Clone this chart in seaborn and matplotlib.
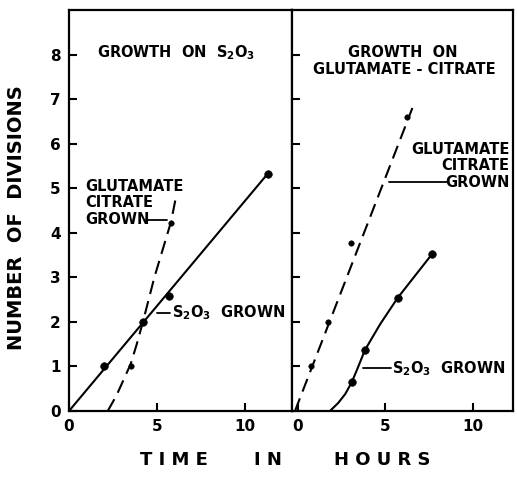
import matplotlib
matplotlib.use("Agg")
import matplotlib.pyplot as plt
import seaborn as sns
import pandas as pd

# left panel: growth on S2O3
left_s2o3_line_x = [0, 11.3]
left_s2o3_line_y = [0, 5.33]
left_s2o3_pts_x = [2.0, 4.2, 5.7, 11.3]
left_s2o3_pts_y = [1.0, 2.0, 2.58, 5.33]
left_glut_line_x = [2.2, 2.7, 3.1, 3.5, 3.85, 4.2, 4.85, 5.8, 6.1]
left_glut_line_y = [0, 0.35, 0.7, 1.05, 1.5, 2.0, 3.0, 4.25, 4.85]
left_glut_pts_x = [3.5, 5.8]
left_glut_pts_y = [1.0, 4.22]

# right panel: growth on glutamate-citrate
right_glut_line_x = [-0.17, 6.54]
right_glut_line_y = [0, 6.8]
right_glut_pts_x = [0.73, 1.73, 3.03, 6.25]
right_glut_pts_y = [1.0, 2.0, 3.76, 6.6]
right_s2o3_line_x = [1.83, 2.3, 2.7, 3.07, 3.4, 3.83, 4.7, 5.7, 7.68]
right_s2o3_line_y = [0, 0.18, 0.38, 0.64, 0.95, 1.37, 1.95, 2.54, 3.53]
right_s2o3_pts_x = [3.07, 3.83, 5.7, 7.68]
right_s2o3_pts_y = [0.64, 1.37, 2.54, 3.53]

x_ticks = [0, 5, 10]
y_ticks = [0, 1, 2, 3, 4, 5, 6, 7, 8]

sns.set_theme(style="ticks")
plt.rcParams["font.family"] = ["DejaVu Sans"]
plt.rcParams["font.weight"] = "bold"
plt.rcParams["text.color"] = "black"
plt.rcParams["mathtext.fontset"] = "dejavusans"
plt.rcParams["mathtext.default"] = "bf"

fig = plt.figure(figsize=(5.17, 4.78), dpi=100)
ax1 = fig.add_axes([69 / 517, 1 - 411 / 478, 223 / 517, 401 / 478])
ax2 = fig.add_axes([292 / 517, 1 - 411 / 478, 221 / 517, 401 / 478])

dash = (0, (6.5, 3.5))
lw = 1.5


def draw(ax, lx, ly, px, py, dashed, ms):
    df = pd.DataFrame({"x": lx, "y": ly})
    sns.lineplot(data=df, x="x", y="y", ax=ax, sort=False, color="black",
                 linewidth=lw, linestyle=dash if dashed else "-")
    dp = pd.DataFrame({"x": px, "y": py})
    sns.scatterplot(data=dp, x="x", y="y", ax=ax, color="black", s=ms,
                    edgecolor="black", zorder=3)


draw(ax1, left_s2o3_line_x, left_s2o3_line_y, left_s2o3_pts_x, left_s2o3_pts_y, False, 30)
draw(ax1, left_glut_line_x, left_glut_line_y, left_glut_pts_x, left_glut_pts_y, True, 16)
draw(ax2, right_glut_line_x, right_glut_line_y, right_glut_pts_x, right_glut_pts_y, True, 16)
draw(ax2, right_s2o3_line_x, right_s2o3_line_y, right_s2o3_pts_x, right_s2o3_pts_y, False, 30)

ax1.set_xlim(0, 12.67)
ax2.set_xlim(-0.34, 12.29)
for ax in (ax1, ax2):
    ax.set_ylim(0, 9)
    ax.set_xticks(x_ticks)
    ax.set_yticks(y_ticks)
    ax.set_xlabel("")
    ax.set_ylabel("")
    for s in ax.spines.values():
        s.set_linewidth(1.6)
        s.set_color("black")
    ax.tick_params(direction="in", length=6, width=1.5, colors="black",
                   labelsize=11, pad=6)
    for lab in ax.get_xticklabels() + ax.get_yticklabels():
        lab.set_fontweight("bold")
ax2.tick_params(axis="y", labelleft=False)

tk = dict(fontsize=10.5, fontweight="bold", color="black")
ax1.text(1.6, 8.05, "GROWTH  ON  S$_2$O$_3$", va="center", ha="left", **tk)
ax1.text(0.95, 4.67, "GLUTAMATE\nCITRATE\nGROWN", va="center", ha="left",
         linespacing=1.12, **tk)
ax1.plot([4.4, 5.55], [4.28, 4.28], color="black", lw=1.3)
ax1.plot([5.0, 5.75], [2.2, 2.2], color="black", lw=1.3)
ax1.text(5.85, 2.2, "S$_2$O$_3$  GROWN", va="center", ha="left", **tk)

ax2.text(6.0, 8.05, "GROWTH  ON", va="center", ha="center", **tk)
ax2.text(6.1, 7.66, "GLUTAMATE - CITRATE", va="center", ha="center", **tk)
ax2.text(12.1, 5.5, "GLUTAMATE\nCITRATE\nGROWN", va="center", ha="right",
         multialignment="right", linespacing=1.12, **tk)
ax2.plot([5.2, 8.6], [5.13, 5.13], color="black", lw=1.3)
ax2.plot([3.7, 5.3], [0.96, 0.96], color="black", lw=1.3)
ax2.text(5.4, 0.96, "S$_2$O$_3$  GROWN", va="center", ha="left", **tk)

lab = dict(fontweight="bold", color="black", ha="center", va="center")
fig.text(17 / 517, 1 - 218 / 478, "NUMBER  OF  DIVISIONS", rotation=90,
         fontsize=14, family=["Liberation Sans Narrow", "DejaVu Sans"], **lab)
fig.text(174 / 517, 1 - 460 / 478, "T I M E", fontsize=13, **lab)
fig.text(268 / 517, 1 - 460 / 478, "I N", fontsize=13, **lab)
fig.text(382 / 517, 1 - 460 / 478, "H O U R S", fontsize=13, **lab)

fig.savefig("out.png", dpi=100)
